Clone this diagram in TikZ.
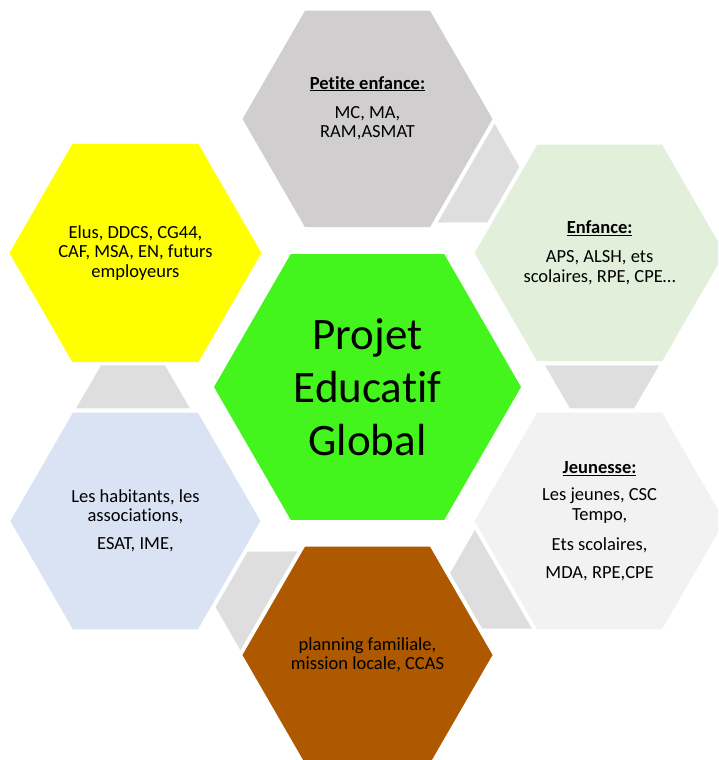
\documentclass[tikz,border=0pt]{standalone}
\usepackage{fontspec}
\setmainfont{Carlito}[Ligatures=NoCommon]
\usetikzlibrary{shapes.geometric}

\definecolor{petitegray}{RGB}{208,206,206}
\definecolor{enfancegreen}{RGB}{226,239,218}
\definecolor{jeunessegray}{RGB}{242,242,242}
\definecolor{eluyellow}{RGB}{255,255,0}
\definecolor{habitantblue}{RGB}{218,227,243}
\definecolor{planningbrown}{RGB}{174,88,0}
\definecolor{projetgreen}{RGB}{67,245,28}
\definecolor{linkgray}{RGB}{222,222,222}

\begin{document}
\begin{tikzpicture}[x=1pt, y=1pt]
  \tikzstyle{hexa}=[regular polygon, regular polygon sides=6, inner sep=0pt, minimum size=250pt,
    align=center, font=\fontsize{18.5pt}{19.5pt}\selectfont]
  \tikzstyle{txt}=[inner sep=0pt, align=center, font=\fontsize{18.5pt}{19.5pt}\selectfont]
  \tikzstyle{link}=[fill=linkgray]

  \useasboundingbox (0,0) rectangle (718,760);
  \clip (0,0) rectangle (718,760);

  \begin{scope}[shift={(367.5,373)}]

    % grey pieces between the outer cells
    \foreach \a in {60,0,-60,-120,180} {
      \fill[link, rotate=\a, shift={(234.5,0)}] (-57,21.5) -- (57,21.5) -- (32,-21.5) -- (-32,-21.5) -- cycle;
    }

    % centre
    \node (projet) at (0,0) [hexa, minimum size=307pt, fill=projetgreen,
      font=\fontsize{45pt}{53pt}\selectfont] {Projet\\Educatif\\Global};

    % outer ring
    \node (petite) at (90:268) [hexa, fill=petitegray] {};
    \node (petite-txt) at ([yshift=11pt]petite.center) [txt]
      {\underline{\textbf{Petite enfance:}}\\[9.5pt]MC, MA,\\RAM,ASMAT};
    \node (enfance) at (30:268) [hexa, fill=enfancegreen]
      {\underline{\textbf{Enfance:}}\\[9.5pt]APS, ALSH, ets\\scolaires, RPE, CPE…};
    \node (jeunesse) at (-30:268) [hexa, fill=jeunessegray]
      {\underline{\textbf{Jeunesse:}}\\[7.5pt]Les jeunes, CSC\\Tempo,\\[10.5pt]Ets scolaires,\\[8.5pt]MDA, RPE,CPE};
    \node (planning) at (-90:268) [hexa, fill=planningbrown]
      {planning familiale,\\mission locale, CCAS};
    \node (habitants) at (-150:268) [hexa, fill=habitantblue]
      {Les habitants, les\\associations,\\[8.5pt]ESAT, IME,};
    \node (elus) at (150:268) [hexa, fill=eluyellow]
      {Elus, DDCS, CG44,\\CAF, MSA, EN, futurs\\employeurs};
  \end{scope}
\end{tikzpicture}
\end{document}
